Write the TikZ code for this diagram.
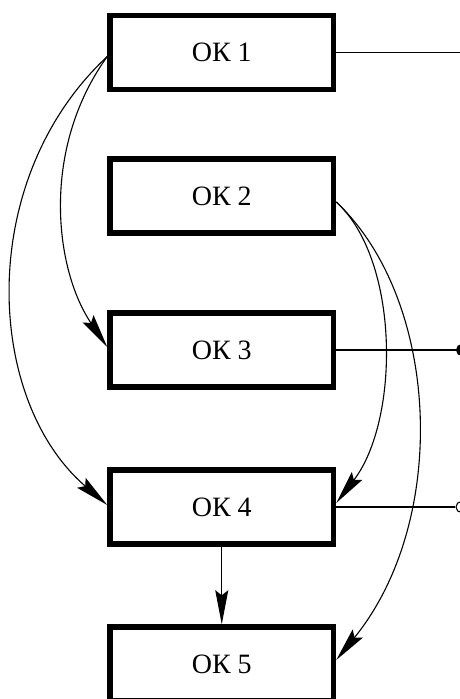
\documentclass[tikz,border=0pt]{standalone}
\usepackage{fontspec}
\setmainfont{Liberation Serif}
\usetikzlibrary{arrows.meta}
\begin{document}
\begin{tikzpicture}[x=1pt,y=-1pt,
  okbox/.style={draw, line width=5.5pt, minimum width=223.5pt, minimum height=74pt, inner sep=0pt,
    font=\fontsize{28}{31}\selectfont},
  conn/.style={line width=1.1pt},
  arr/.style={conn, -{Stealth[length=34pt,width=13pt,inset=5pt]}},
  dot/.style={circle, draw, line width=1.1pt, minimum size=11pt, inner sep=0pt}]
\useasboundingbox (0,0) rectangle (459,699);
\node[okbox] (ok1) at (221.75,52.5) {ОК 1};
\node[okbox] (ok2) at (221.75,196) {ОК 2};
\node[okbox] (ok3) at (221.75,350) {ОК 3};
\node[okbox] (ok4) at (221.75,507) {ОК 4};
\node[okbox] (ok5) at (221.75,664) {ОК 5};
\coordinate (e1) at (470,52.5);
\node[dot, fill=black] (d3) at (462,350) {};
\node[dot] (d4) at (461.5,507) {};
\draw[conn] (ok1.east) -- (e1);
\draw[conn] (ok3.east) -- (d3);
\draw[conn] (ok4.east) -- (d4);
\draw[arr] (ok4.south) -- (ok5.north);
\draw[arr] ([yshift=-4pt]ok1.west) .. controls (40,150) and (55,270) .. ([yshift=3pt]ok3.west);
\draw[arr] ([yshift=-4pt]ok1.west) .. controls (-25,180) and (-15,400) .. ([yshift=2pt]ok4.west);
\draw[arr] ([yshift=-6pt]ok2.east) .. controls (400,260) and (400,420) .. ([yshift=4pt]ok4.east);
\draw[arr] ([yshift=-6pt]ok2.east) .. controls (440,300) and (450,520) .. ([yshift=4pt]ok5.east);
\end{tikzpicture}
\end{document}
